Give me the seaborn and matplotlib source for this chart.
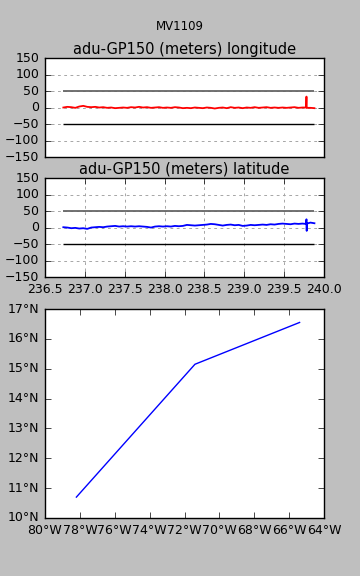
import numpy as np
import pandas as pd
import matplotlib
matplotlib.use("Agg")
import matplotlib.pyplot as plt
import matplotlib.ticker as mticker
import seaborn as sns

# GPS offsets (meters) against decimal day of year
hours = [236.73, 236.78, 236.83, 236.88, 236.93, 236.98, 237.03, 237.08, 237.13, 237.18,
         237.23, 237.28, 237.33, 237.38, 237.43, 237.48, 237.53, 237.58, 237.63, 237.68,
         237.73, 237.78, 237.83, 237.88, 237.93, 237.98, 238.03, 238.08, 238.13, 238.18,
         238.23, 238.28, 238.33, 238.38, 238.43, 238.48, 238.53, 238.58, 238.63, 238.68,
         238.73, 238.78, 238.83, 238.88, 238.93, 238.98, 239.03, 239.08, 239.13, 239.18,
         239.23, 239.28, 239.33, 239.38, 239.43, 239.48, 239.53, 239.58, 239.63, 239.68,
         239.73, 239.775, 239.78, 239.783, 239.785, 239.83, 239.88]
lon_err = [0, 2, 1, -1, 3, 5, 2, 1, 2, 0,
           1, -1, 0, -2, -1, 0, -1, 1, 0, 2,
           0, 1, -1, 0, 1, -1, 0, -1, 1, 0,
           -2, -1, -2, 0, -1, -2, 0, -1, -3, -1,
           0, -2, 1, -1, 0, -2, 0, -1, 1, -1,
           0, 1, -1, 0, -1, 0, -1, 0, 1, -1,
           0, 0, 33, 0, -1, -1, -2]
lat_err = [1, 0, -2, -1, -3, -2, -4, 0, 1, 2,
           1, 3, 4, 5, 3, 4, 3, 4, 3, 4,
           3, 2, 0, 3, 4, 3, 4, 3, 5, 4,
           5, 8, 7, 6, 7, 8, 9, 11, 10, 8,
           6, 8, 9, 7, 8, 5, 6, 8, 7, 8,
           9, 8, 10, 9, 11, 12, 11, 10, 12, 11,
           12, 11, 25, -10, 12, 15, 13]
limits = [50, -50]

# ship track
track_lon = [-78.2, -71.4, -65.4]
track_lat = [10.7, 15.15, 16.55]

df = pd.DataFrame({"t": hours, "lon": lon_err, "lat": lat_err})
trk = pd.DataFrame({"lon": track_lon, "lat": track_lat})

plt.style.use("classic")
plt.rcParams["font.size"] = 9
plt.rcParams["axes.titlesize"] = 10.5

fig = plt.figure(figsize=(3.6, 5.76), facecolor="0.75")
fig.suptitle("MV1109", fontsize=8.5, y=0.965)

ax1 = fig.add_axes([0.125, 0.7274, 0.775, 0.1719])
ax2 = fig.add_axes([0.125, 0.519, 0.775, 0.1719])
ax3 = fig.add_axes([0.125, 0.1007, 0.775, 0.3628])

grid_kw = dict(color="0.65", linestyle=(0, (2, 2.5)), linewidth=0.7)

for ax, col, c, name in [(ax1, "lon", "r", "longitude"), (ax2, "lat", "b", "latitude")]:
    sns.lineplot(data=df, x="t", y=col, ax=ax, color=c, linewidth=1.3,
                 estimator=None, sort=False)
    ax.hlines(limits[0], hours[0], hours[-1], color="0.4", linewidth=1.3)
    ax.hlines(limits[1], hours[0], hours[-1], color="k", linewidth=1.0)
    ax.set_xlim(236.5, 240.0)
    ax.set_ylim(-150, 150)
    ax.set_yticks(np.arange(-150, 151, 50))
    ax.set_xlabel("")
    ax.set_ylabel("")
    ax.set_title("adu-GP150 (meters) " + name, pad=3)
    ax.grid(True, **grid_kw)
    ax.set_axisbelow(True)

ax1.set_xticks([])
ax2.set_xticks(np.arange(236.5, 240.01, 0.5))
ax2.xaxis.set_major_formatter(mticker.FormatStrFormatter("%.1f"))

sns.lineplot(data=trk, x="lon", y="lat", ax=ax3, color="b", linewidth=1.0,
             estimator=None, sort=False)
ax3.set_xlim(-80, -64)
ax3.set_ylim(10, 17)
ax3.set_xticks(np.arange(-80, -63, 2))
ax3.set_yticks(np.arange(10, 18, 1))
ax3.xaxis.set_major_formatter(mticker.FuncFormatter(lambda v, p: f"{abs(v):.0f}°W"))
ax3.yaxis.set_major_formatter(mticker.FuncFormatter(lambda v, p: f"{v:.0f}°N"))
ax3.set_xlabel("")
ax3.set_ylabel("")

fig.savefig("out.png", dpi=100, facecolor=fig.get_facecolor())
